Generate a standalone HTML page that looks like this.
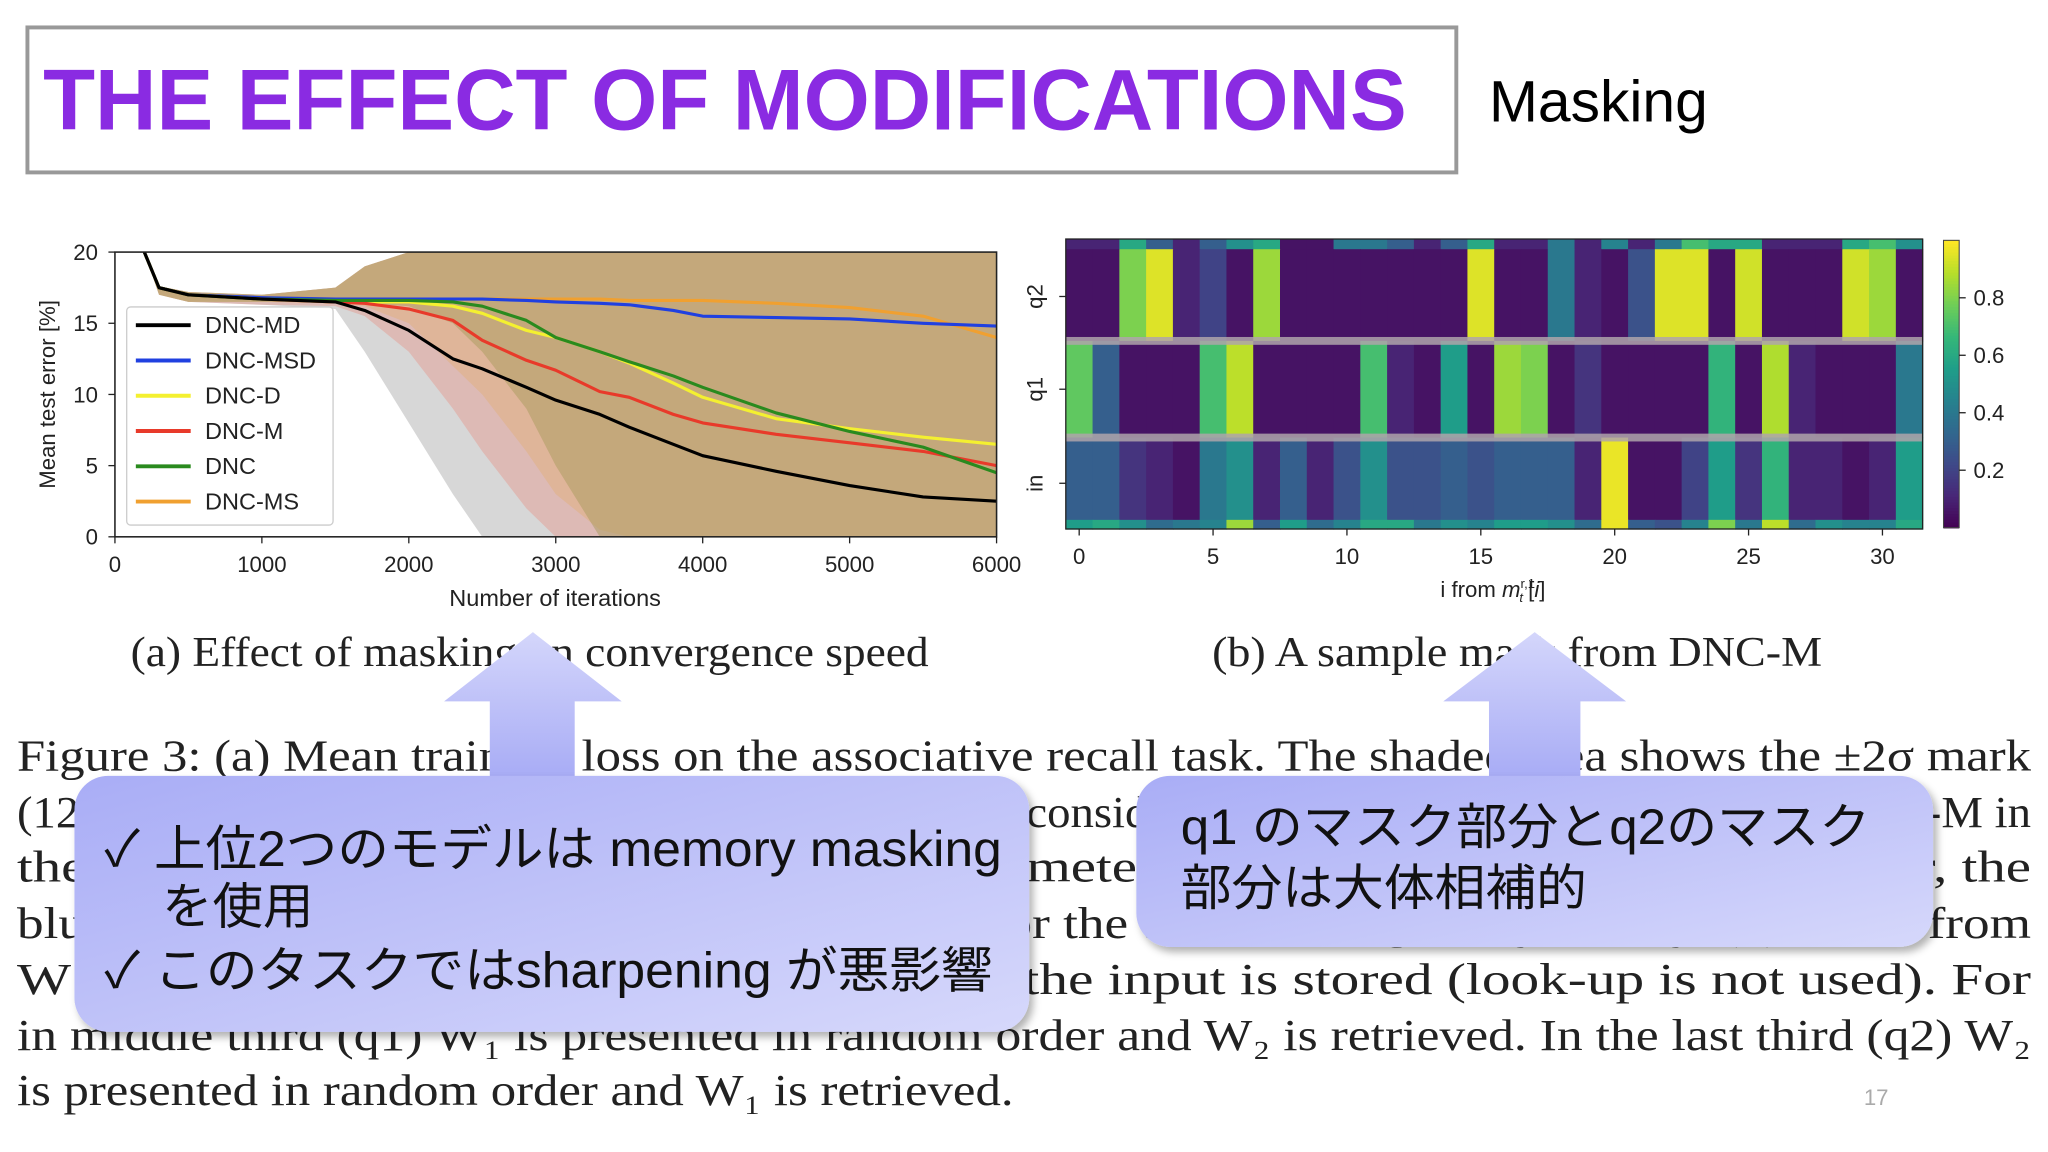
<!DOCTYPE html>
<html><head><meta charset="utf-8">
<style>
html,body{margin:0;padding:0;background:#fff;width:2048px;height:1152px;overflow:hidden}
svg{display:block}
.sans{font-family:"Liberation Sans","Noto Sans CJK JP",sans-serif}
.serif{font-family:"Liberation Serif","Noto Serif CJK SC",serif}
</style></head>
<body>
<svg id="root" width="2048" height="1152" viewBox="0 0 1568 882" xmlns="http://www.w3.org/2000/svg">
<defs>
 <linearGradient id="cg" x1="0" y1="0" x2="1" y2="1">
  <stop offset="0" stop-color="#a9adf6"/><stop offset="1" stop-color="#d6d8fb"/>
 </linearGradient>
 <linearGradient id="ag" x1="0" y1="0" x2="0" y2="1">
  <stop offset="0" stop-color="#d4d6fb"/><stop offset="1" stop-color="#a6aaf5"/>
 </linearGradient>
 <filter id="sh" x="-5%" y="-5%" width="115%" height="120%"><feDropShadow dx="3" dy="4" stdDeviation="3" flood-color="#000" flood-opacity="0.3"/></filter>
 <clipPath id="plotclip"><rect x="88" y="193" width="675" height="218"/></clipPath>
</defs>

<rect x="21" y="21" width="1094" height="111" fill="#fff" stroke="#999" stroke-width="3"/>
<text x="33" y="99" class="sans" font-size="66" font-weight="bold" fill="#8a2be2" textLength="1044" lengthAdjust="spacingAndGlyphs">THE EFFECT OF MODIFICATIONS</text>
<text x="1140" y="93" class="sans" font-size="45" fill="#000">Masking</text>

<g id="lineChart"></g>
<g id="heatChart"></g>

<text x="100" y="510" class="serif" font-size="32" fill="#222" textLength="611" lengthAdjust="spacingAndGlyphs">(a) Effect of masking on convergence speed</text>
<text x="928" y="510" class="serif" font-size="32" fill="#222" textLength="467" lengthAdjust="spacingAndGlyphs">(b) A sample mask from DNC-M</text>

<g class="serif" font-size="34" fill="#222">
<text x="13" y="590" textLength="1542" lengthAdjust="spacingAndGlyphs">Figure 3: (a) Mean training loss on the associative recall task. The shaded area shows the ±2σ mark</text>
<text x="13" y="633" textLength="1542" lengthAdjust="spacingAndGlyphs">(12 seeds). Masking improves the convergence speed considerably, and the black DNC-MD and DNC-M in</text>
<text x="13" y="675" textLength="1542" lengthAdjust="spacingAndGlyphs">the end reaches a much lower error rate parameters than the other variants. However, the</text>
<text x="13" y="718" textLength="1542" lengthAdjust="spacingAndGlyphs">blue and orange curves with sharpening used for the task converge very slowly. (b) Mask from</text>
<text x="13" y="761" textLength="1542" lengthAdjust="spacingAndGlyphs">W₁ and W₂ sequences. In the first third (in) the input is stored (look-up is not used). For</text>
<text x="13" y="804" textLength="1542" lengthAdjust="spacingAndGlyphs">in middle third (q1) W₁ is presented in random order and W₂ is retrieved. In the last third (q2) W₂</text>
<text x="13" y="846" textLength="763" lengthAdjust="spacingAndGlyphs">is presented in random order and W₁ is retrieved.</text>
</g>
<text x="1427" y="846" class="sans" font-size="17" fill="#aaa">17</text>

<g>
 <polygon points="408,484 476,537 440,537 440,600 375,600 375,537 340,537" fill="url(#ag)"/>
 <rect x="57" y="594" width="731" height="196" rx="26" fill="url(#cg)" filter="url(#sh)"/>
 <g class="sans" font-size="38" fill="#111">
  <text x="80" y="663" textLength="687" lengthAdjust="spacingAndGlyphs">✓ 上位2つのモデルは memory masking</text>
  <text x="124" y="707" textLength="116" lengthAdjust="spacingAndGlyphs">を使用</text>
  <text x="80" y="756" textLength="680" lengthAdjust="spacingAndGlyphs">✓ このタスクではsharpening が悪影響</text>
 </g>
</g>
<g>
 <polygon points="1175,484 1245,537 1210,537 1210,600 1140,600 1140,537 1105,537" fill="url(#ag)"/>
 <rect x="870" y="594" width="610" height="131" rx="26" fill="url(#cg)" filter="url(#sh)"/>
 <g class="sans" font-size="38" fill="#111">
  <text x="904" y="646" textLength="528" lengthAdjust="spacingAndGlyphs">q1 のマスク部分とq2のマスク</text>
  <text x="904" y="693" textLength="311" lengthAdjust="spacingAndGlyphs">部分は大体相補的</text>
 </g>
</g>
</svg>

<script>
// ---------- line chart data ----------
const iters = [200,300,500,1000,1500,1700,2000,2300,2500,2800,3000,3300,3500,3800,4000,4500,5000,5500,6000];
const dncMD  = [20,17.5,17,16.7,16.5,15.9,14.5,12.5,11.8,10.5,9.6,8.6,7.7,6.5,5.7,4.6,3.6,2.8,2.5];
const dncMSD = [20,17.5,17,16.8,16.7,16.7,16.7,16.7,16.7,16.6,16.5,16.4,16.3,15.9,15.5,15.4,15.3,15.0,14.8];
const dncD   = [20,17.5,17,16.7,16.5,16.5,16.5,16.2,15.7,14.5,14.0,13.0,12.2,10.8,9.8,8.3,7.6,7.0,6.5];
const dncM   = [20,17.5,17,16.7,16.5,16.4,16.0,15.2,13.8,12.4,11.7,10.2,9.8,8.6,8.0,7.2,6.6,6.0,5.0];
const dnc    = [20,17.5,17,16.7,16.6,16.6,16.6,16.5,16.2,15.2,14.0,13.0,12.3,11.3,10.5,8.7,7.4,6.3,4.5];
const dncMS  = [20,17.5,17,16.8,16.7,16.7,16.7,16.7,16.7,16.7,16.7,16.7,16.6,16.6,16.6,16.4,16.1,15.5,14.0];
// lower edges of ±2σ bands (upper edge clipped at 20)
const bandMD  = [20,17,16.5,16.3,16,13,8,3,0,0,0,0,0,0,0,0,0,0,0];
const bandM   = [20,17,16.5,16.3,16.2,15.5,13,9,6,2,0,0,0,0,0,0,0,0,0];
const bandMS  = [20,17,16.5,16.5,16.4,16.2,15,12,10,6,3,0.5,0,0,0,0,0,0,0];
const bandDNC = [20,17,16.5,16.5,16.5,16.4,16.2,15,13,9,5,0,0,0,0,0,0,0,0];
const bandTop = [20,17.6,17.2,17,17.5,19,20,20,20,20,20,20,20,20,20,20,20,20,20];
const xTicks = [0,1000,2000,3000,4000,5000,6000];
const yTicks = [0,5,10,15,20];
const legendNames = ["DNC-MD","DNC-MSD","DNC-D","DNC-M","DNC","DNC-MS"];

// ---------- heatmap data ----------
const cols = 32;
const q2Top = [.1,.1,.6,.3,.1,.3,.5,.6,.05,.05,.4,.4,.3,.1,.3,.6,.1,.1,.4,.1,.45,.1,.4,.7,.6,.6,.1,.1,.1,.6,.7,.5];
const q2    = [.05,.05,.8,.95,.1,.2,.05,.85,.05,.05,.05,.05,.05,.05,.05,.95,.05,.05,.4,.1,.05,.25,.95,.95,.05,.93,.05,.05,.05,.93,.85,.05];
const q1    = [.75,.3,.05,.05,.05,.7,.9,.05,.05,.05,.05,.7,.1,.05,.55,.05,.85,.8,.05,.15,.05,.05,.05,.05,.65,.05,.88,.1,.05,.05,.05,.4];
const inMain= [.3,.3,.15,.1,.05,.4,.5,.1,.3,.1,.25,.5,.25,.25,.3,.25,.3,.3,.3,.1,.97,.05,.05,.2,.55,.15,.65,.1,.1,.05,.1,.55];
const inBot = [.55,.6,.5,.35,.4,.45,.85,.3,.55,.35,.45,.6,.6,.4,.5,.45,.55,.55,.5,.35,.97,.3,.25,.45,.8,.4,.9,.35,.5,.45,.45,.6];
const cbTicks = [0.2,0.4,0.6,0.8];
const colTicks = [0,5,10,15,20,25,30];

const NS = "http://www.w3.org/2000/svg";
function mk(tag, attrs, parent){const e=document.createElementNS(NS,tag);for(const k in attrs)e.setAttribute(k,attrs[k]);parent.appendChild(e);return e;}

// ---------- draw line chart ----------
(function(){
 const g=document.getElementById('lineChart');
 const X0=88,X1=763,Y0=411,Y1=193;
 const sx=v=>X0+v/6000*(X1-X0), sy=v=>Y0-v/20*(Y0-Y1);
 const clip=mk('g',{'clip-path':'url(#plotclip)'},g);
 const bands=[[bandMD,'rgba(175,175,175,0.5)','band-dnc-md'],[bandM,'rgba(228,150,140,0.45)','band-dnc-m'],[bandMS,'rgba(226,175,125,0.5)','band-dnc-ms'],[bandDNC,'rgba(150,135,70,0.38)','band-dnc'],[bandDNC,'rgba(200,190,130,0.2)','band-dnc-d']];
 bands.forEach(b=>{
  let p=iters.map((t,i)=>sx(t)+','+sy(bandTop[i])).join(' ');
  p+=' '+iters.slice().reverse().map((t,j)=>{const i=iters.length-1-j;return sx(t)+','+sy(b[0][i]);}).join(' ');
  const e=mk('polygon',{points:p,fill:b[1]},clip);
  
  
 });
 const series=[[dncMS,'#f0a030','line-dnc-ms'],[dncMSD,'#2040e0','line-dnc-msd'],[dncD,'#f4f030','line-dnc-d'],[dncM,'#e83a2a','line-dnc-m'],[dnc,'#2a8a1e','line-dnc'],[dncMD,'#000','line-dnc-md']];
 series.forEach(s=>{
  const e=mk('polyline',{points:iters.map((t,i)=>sx(t)+','+sy(s[0][i])).join(' '),fill:'none',stroke:s[1],'stroke-width':2.4,'stroke-linejoin':'round'},clip);
  
  
 });
 const fr=mk('rect',{x:X0,y:Y1,width:X1-X0,height:Y0-Y1,fill:'none',stroke:'#222','stroke-width':1.2},g);
 
 
 xTicks.forEach(t=>{
  mk('line',{x1:sx(t),x2:sx(t),y1:Y0,y2:Y0+5,stroke:'#222'},g);
  const e=mk('text',{x:sx(t),y:438,'text-anchor':'middle','font-size':17,class:'sans',fill:'#222'},g);e.textContent=t;
  
  
 });
 yTicks.forEach(t=>{
  mk('line',{x1:X0-5,x2:X0,y1:sy(t),y2:sy(t),stroke:'#222'},g);
  const e=mk('text',{x:X0-13,y:sy(t)+6,'text-anchor':'end','font-size':17,class:'sans',fill:'#222'},g);e.textContent=t;
  
  
 });
 let e=mk('text',{x:425,y:464,'text-anchor':'middle','font-size':18,class:'sans',fill:'#222'},g);e.textContent='Number of iterations';
 
 
 e=mk('text',{x:0,y:0,transform:'translate(42,302) rotate(-90)','text-anchor':'middle','font-size':17,class:'sans',fill:'#222'},g);e.textContent='Mean test error [%]';
 
 
 const lg=mk('g',{},g);
 
 
 mk('rect',{x:97,y:235,width:158,height:167,rx:3,fill:'rgba(255,255,255,0.85)',stroke:'#ccc'},lg);
 const lc=['#000','#2040e0','#f4f030','#e83a2a','#2a8a1e','#f0a030'];
 legendNames.forEach((n,i)=>{
  const y=249+i*27;
  mk('line',{x1:104,x2:146,y1:y,y2:y,stroke:lc[i],'stroke-width':3},lg);
  const t=mk('text',{x:157,y:y+6,'font-size':18,class:'sans',fill:'#222'},lg);t.textContent=n;
  
  
 });
})();

// ---------- draw heatmap ----------
function viridis(v){
 const s=[[68,1,84],[72,40,120],[62,74,137],[49,104,142],[38,130,142],[31,158,137],[53,183,121],[110,206,88],[181,222,43],[253,231,37]];
 v=Math.max(0,Math.min(1,v))*(s.length-1);const i=Math.min(Math.floor(v),s.length-2),f=v-i;
 const c=s[i].map((a,k)=>Math.round(a+(s[i+1][k]-a)*f));return 'rgb('+c.join(',')+')';
}
(function(){
 const g=document.getElementById('heatChart');
 const X0=816,X1=1472,Y0=183,Y1=405,cw=(X1-X0)/cols;
 const sec=[[Y0,261,[[q2Top,1],[q2,9]],'q2'],[261,335,[[q1,10]],'q1'],[335,Y1,[[inMain,9],[inBot,1]],'in']];
 sec.forEach(s=>{
  const total=s[2].reduce((a,r)=>a+r[1],0),rh=(s[1]-s[0])/total;let y=s[0];
  s[2].forEach(r=>{
   for(let c=0;c<cols;c++){
    const e=mk('rect',{x:X0+c*cw,y:y,width:cw+0.5,height:rh*r[1]+0.5,fill:viridis(r[0][c])},g);
    
    
   }
   y+=rh*r[1];
  });
 });
 [261,335].forEach(y=>{const e=mk('rect',{x:X0,y:y-3,width:X1-X0,height:6,fill:'rgba(175,165,170,0.85)'},g);
  
  });
 mk('rect',{x:X0,y:Y0,width:X1-X0,height:Y1-Y0,fill:'none',stroke:'#222','stroke-width':1},g);
 [['q2',227],['q1',298],['in',370]].forEach(r=>{
  mk('line',{x1:X0-5,x2:X0,y1:r[1],y2:r[1],stroke:'#222'},g);
  const e=mk('text',{x:0,y:0,transform:'translate(798,'+r[1]+') rotate(-90)','text-anchor':'middle','font-size':17,class:'sans',fill:'#222'},g);e.textContent=r[0];
  
  
 });
 colTicks.forEach(t=>{
  const x=X0+(t+0.5)*cw;
  mk('line',{x1:x,x2:x,y1:Y1,y2:Y1+5,stroke:'#222'},g);
  const e=mk('text',{x:x,y:432,'text-anchor':'middle','font-size':17,class:'sans',fill:'#222'},g);e.textContent=t;
  
  
 });
 const xt=mk('text',{x:1143,y:457,'text-anchor':'middle','font-size':17,class:'sans',fill:'#222'},g);
 xt.innerHTML='i from <tspan font-style="italic">m</tspan><tspan font-size="10" dy="-7">r,1</tspan><tspan font-size="10" dx="-12" dy="11" font-style="italic">t</tspan><tspan dy="-4" dx="4">[</tspan><tspan font-style="italic">i</tspan>]';
 
 
 const cb=mk('g',{},g);
 
 
 const CY0=184,CY1=404;
 for(let i=0;i<100;i++){mk('rect',{x:1488,y:CY1-(i+1)*(CY1-CY0)/100,width:12,height:(CY1-CY0)/100+0.6,fill:viridis(i/99)},cb);}
 mk('rect',{x:1488,y:CY0,width:12,height:CY1-CY0,fill:'none',stroke:'#444','stroke-width':0.8},cb);
 cbTicks.forEach(t=>{
  const y=CY1-t*(CY1-CY0);
  mk('line',{x1:1500,x2:1505,y1:y,y2:y,stroke:'#222'},cb);
  const e=mk('text',{x:1511,y:y+6,'font-size':17,class:'sans',fill:'#222'},cb);e.textContent=t.toFixed(1);
  
  
 });
})();
</script>
</body></html>
